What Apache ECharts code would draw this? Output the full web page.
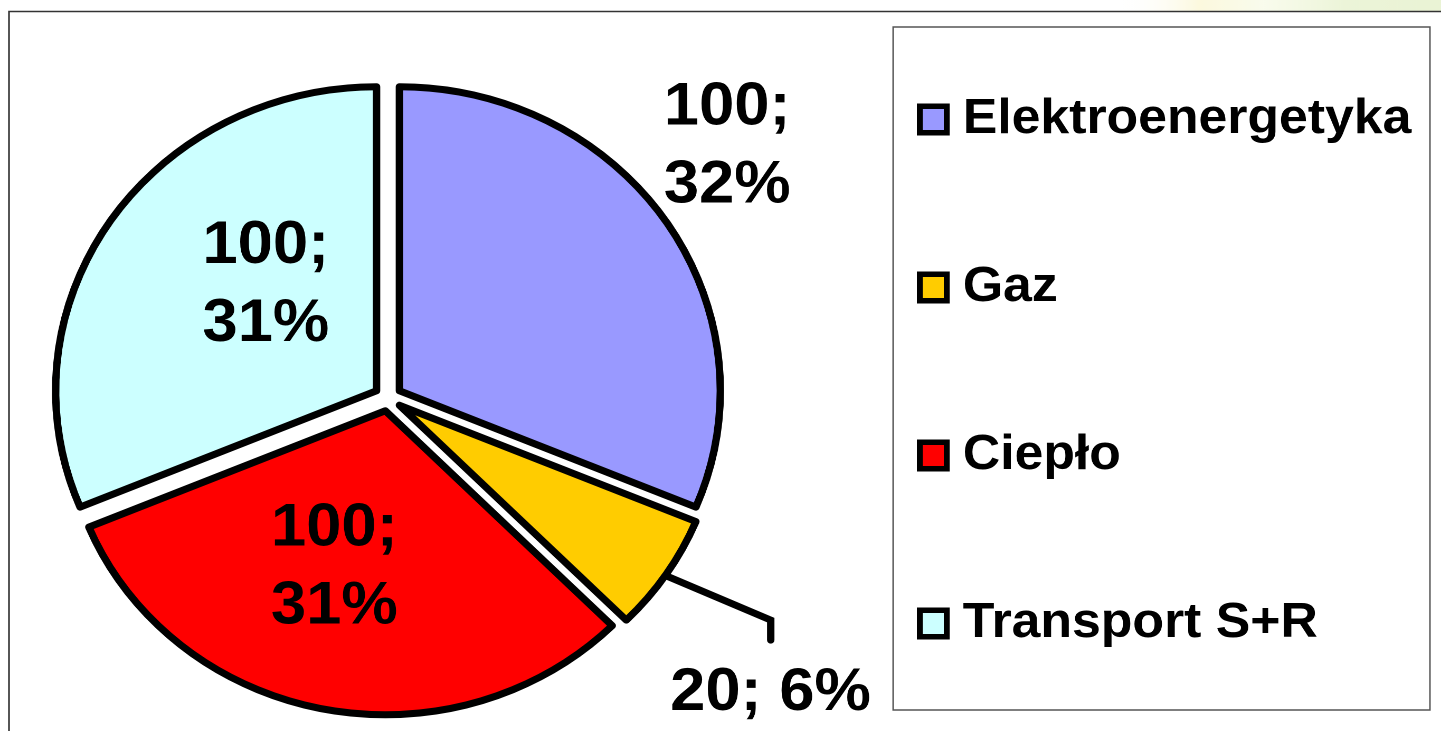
<!DOCTYPE html>
<html>
<head>
<meta charset="utf-8">
<script src="https://cdn.jsdelivr.net/npm/echarts@6/dist/echarts.min.js"></script>
<style>
  html, body { margin: 0; padding: 0; background: #fff; overflow: hidden; width: 1441px; height: 731px; }
  #chart { width: 1365px; height: 731px; transform: scaleX(1.0557); transform-origin: 0 0; }
</style>
</head>
<body>
<div id="chart"></div>
<script>
// ---- data ----
const categories = ['Elektroenergetyka', 'Gaz', 'Ciepło', 'Transport S+R'];
const values = [100, 20, 100, 100];
const percentLabels = ['32%', '6%', '31%', '31%'];
const colors = ['#9999FF', '#FFCC00', '#FF0000', '#CCFFFF'];

const FONT = '"Liberation Sans", Arial, Helvetica, sans-serif';

const chart = echarts.init(document.getElementById('chart'), null, { renderer: 'canvas', devicePixelRatio: 2 });

const pieData = categories.map((name, i) => ({
  name: name,
  value: values[i],
  selected: true,
  itemStyle: { color: colors[i] },
  label: { position: (i === 0 || i === 1) ? 'outside' : 'inside' },
  labelLine: { show: i === 1 }
}));

const rich = { t: { fontFamily: FONT, fontWeight: 'bold', fontSize: 49, color: '#000', lineHeight: 50, padding: [0, 0, 0, 18] } };
colors.forEach((c, i) => {
  rich['b' + i] = { width: 20, height: 21, backgroundColor: c, borderColor: '#000', borderWidth: 5.5 };
});

const option = {
  animation: false,
  backgroundColor: '#ffffff',
  graphic: [
    {
      type: 'rect', z: -10, silent: true,
      shape: { x: 1060, y: 0, width: 305, height: 11 },
      style: {
        fill: new echarts.graphic.LinearGradient(0, 0, 1, 0, [
          { offset: 0, color: 'rgba(255,255,255,0)' },
          { offset: 0.25, color: 'rgba(250,245,200,0.6)' },
          { offset: 0.45, color: 'rgba(245,250,225,0.6)' },
          { offset: 0.7, color: 'rgba(228,240,200,0.7)' },
          { offset: 1, color: 'rgba(225,238,195,0.7)' }
        ])
      }
    },
    {
      type: 'rect', silent: true, z: -5,
      shape: { x: 8.5, y: 11.5, width: 2000, height: 2000 },
      style: { fill: 'none', stroke: '#333', lineWidth: 1.6 }
    },
    {
      type: 'rect', silent: true, z: -5,
      shape: { x: 846, y: 27, width: 508.5, height: 683 },
      style: { fill: '#fff', stroke: '#555', lineWidth: 1.4 }
    }
  ],
  legend: {
    orient: 'vertical',
    left: 868,
    top: 95,
    padding: 0,
    icon: 'rect',
    itemWidth: 0,
    itemHeight: 0,
    itemGap: 119,
    selectedMode: false,
    itemStyle: { opacity: 0 },
    formatter: function (name) {
      const i = categories.indexOf(name);
      return '{b' + i + '|}{t|' + name + '}';
    },
    textStyle: { rich: rich },
    data: categories
  },
  series: [{
    type: 'pie',
    center: [367.5, 398],
    radius: [0, 304],
    startAngle: 90,
    clockwise: true,
    selectedMode: 'multiple',
    selectedOffset: 13,
    avoidLabelOverlap: false,
    emphasis: { disabled: true },
    itemStyle: { borderColor: '#000', borderWidth: 7, borderJoin: 'round' },
    select: { itemStyle: { borderColor: '#000', borderWidth: 7, borderJoin: 'round' } },
    label: {
      show: true,
      fontFamily: FONT, fontWeight: 'bold', fontSize: 60, color: '#000',
      lineHeight: 78,
      formatter: function (p) {
        const i = p.dataIndex;
        return i === 1 ? values[i] + '; ' + percentLabels[i] : values[i] + ';\n' + percentLabels[i];
      }
    },
    labelLine: {
      show: true,
      length: 20, length2: 20,
      lineStyle: { color: '#000', width: 7, cap: 'round', join: 'miter' }
    },
    labelLayout: function (params) {
      const i = params.dataIndex;
      if (i === 0) return { dx: -44, dy: -64 };
      if (i === 1) {
        const res = { dx: -38, dy: 108 };
        if (params.labelLinePoints && params.labelLinePoints[0]) {
          const p0 = params.labelLinePoints[0];
          res.labelLinePoints = [[p0[0] - 4, p0[1]], [p0[0] + 99, p0[1] + 46], [p0[0] + 99, p0[1] + 66]];
        }
        return res;
      }
      if (i === 2) return { dx: -18, dy: 5 };
      if (i === 3) return { dx: 24, dy: -19 };
      return {};
    },
    data: pieData
  }]
};

chart.setOption(option);
</script>
</body>
</html>
